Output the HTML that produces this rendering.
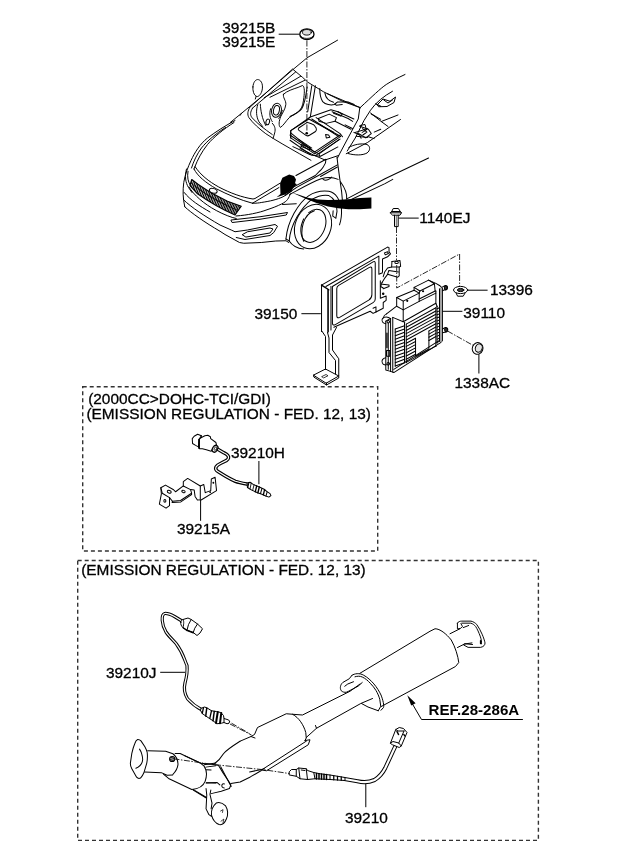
<!DOCTYPE html>
<html><head><meta charset="utf-8"><title>Parts diagram</title>
<style>
html,body{margin:0;padding:0;background:#fff;}
body{width:620px;height:848px;overflow:hidden;}
svg{display:block;filter:grayscale(1);}
text{font-family:"Liberation Sans",sans-serif;font-size:15.4px;fill:#000;stroke:#000;stroke-width:0.3px;}
.l{fill:none;stroke:#000;stroke-width:1;stroke-linecap:round;stroke-linejoin:round;}
.t{fill:none;stroke:#333;stroke-width:0.6;stroke-linecap:round;stroke-linejoin:round;}
.w{fill:#fff;stroke:#000;stroke-width:1;stroke-linecap:round;stroke-linejoin:round;}
.ld{fill:none;stroke:#000;stroke-width:1;}
.dd{fill:none;stroke:#111;stroke-width:0.9;stroke-dasharray:6 1.5 1.5 1.5;}
.bx{fill:none;stroke:#333;stroke-width:1.4;stroke-dasharray:4 3;}
.k{fill:#000;stroke:none;}
</style></head><body>
<svg width="620" height="848" viewBox="0 0 620 848">
<rect x="0" y="0" width="620" height="848" fill="#fff"/>
<!-- 00_labels.svg -->
<g id="boxes">
<rect class="bx" x="82.7" y="386.8" width="295" height="164.2"/>
<rect class="bx" x="77.7" y="560.5" width="460.7" height="279.9"/>
</g>
<g id="labels">
<text x="222.3" y="33.4">39215B</text>
<text x="222.3" y="47.4">39215E</text>
<text x="419.3" y="222.8">1140EJ</text>
<text x="490" y="294.5">13396</text>
<text x="463.3" y="317.5">39110</text>
<text x="254.5" y="319.3">39150</text>
<text x="454.5" y="388.3">1338AC</text>
<text x="88.2" y="403.8">(2000CC&gt;DOHC-TCI/GDI)</text>
<text x="86.4" y="418.8">(EMISSION REGULATION - FED. 12, 13)</text>
<text x="231" y="458">39210H</text>
<text x="177" y="534">39215A</text>
<text x="81.2" y="574.5">(EMISSION REGULATION - FED. 12, 13)</text>
<text x="106" y="678.2">39210J</text>
<text x="428.6" y="715.4" style="font-weight:bold;font-size:15.1px;stroke:none">REF.28-286A</text>
<text x="345" y="823.2">39210</text>
</g>
<g id="leaders">
<path class="ld" d="M278.7 34.2H299.6"/>
<path class="ld" d="M398.4 218.1H418.7"/>
<path class="ld" d="M467.7 290.2H487.6"/>
<path class="ld" d="M442.4 311.3H462.4"/>
<path class="ld" d="M478.9 353.5V373.5"/>
<path class="ld" d="M301.4 313.7H320.8"/>
<path class="ld" d="M160.2 672.3H185"/>
<path class="ld" d="M365.8 782.7V807.2"/>
<path class="ld" d="M258.9 461V484.2"/>
<path class="ld" d="M200.6 501V520.8"/>
<path class="ld" d="M522.9 719.5H421.5L409.5 699"/>
<path class="k" d="M407.3 695.3L415.6 703.2L411.2 705.6Z"/>
</g>

<!-- 10_car1.svg -->
<g transform="translate(160,120) scale(0.25)" style="stroke-width:4" class="l">
<!-- outer silhouette left -->
<path d="M300 2C262 22 222 48 190 72C160 96 140 128 124 162C112 188 100 218 95 250C91 280 91 312 99 347"/>
<path d="M262 30C222 56 188 84 166 112C148 136 134 166 126 192"/>
<path d="M296 10C255 36 215 68 190 98C166 128 150 160 140 186L136 196"/>
<!-- hood front edge -->
<path d="M136 196C150 225 185 252 225 275C270 298 320 320 370 333"/>
<path d="M140 186C160 218 195 246 235 268C280 292 330 310 372 316L380 314L480 253"/>
<path d="M370 333L476 270"/>
<path d="M370 333C385 333 395 332 405 330C425 327 440 324 452 321C468 317 482 312 492 307C502 302 510 297 515 292L527 284"/>
<path d="M304 384C330 382 350 379 370 375C395 370 412 365 428 359C450 352 470 344 486 336C498 330 506 324 510 318C516 310 519 302 521 295"/>
<path d="M490 338L545 335"/>
<!-- grille -->
<clipPath id="gc"><path d="M127 238C160 266 210 296 270 325L325 345L300 380C250 358 200 330 150 295L120 262Z"/></clipPath>
<g clip-path="url(#gc)"><rect x="100" y="220" width="240" height="180" style="fill:#fff;stroke:none"/>
<path d="M126.0 224.0L106.0 284.0M132.0 228.3L112.0 288.3M138.1 232.6L118.1 292.6M144.1 236.9L124.1 296.9M150.1 241.2L130.1 301.2M156.1 245.4L136.1 305.4M162.2 249.6L142.2 309.6M168.2 253.7L148.2 313.7M174.2 257.7L154.2 317.7M180.3 261.7L160.3 321.7M186.3 265.6L166.3 325.6M192.3 269.5L172.3 329.5M198.4 273.2L178.4 333.2M204.4 276.9L184.4 336.9M210.4 280.4L190.4 340.4M216.4 283.9L196.4 343.9M222.5 287.2L202.5 347.2M228.5 290.5L208.5 350.5M234.5 293.7L214.5 353.7M240.6 296.7L220.6 356.7M246.6 299.7L226.6 359.7M252.6 302.5L232.6 362.5M258.6 305.3L238.6 365.3M264.7 307.9L244.7 367.9M270.7 310.5L250.7 370.5M276.7 313.0L256.7 373.0M282.8 315.4L262.8 375.4M288.8 317.8L268.8 377.8M294.8 320.1L274.8 380.1M300.9 322.3L280.9 382.3M306.9 324.5L286.9 384.5M312.9 326.7L292.9 386.7M318.9 328.8L298.9 388.8M325.0 330.9L305.0 390.9M331.0 333.0L311.0 393.0" style="stroke-width:4.4"/>
<path d="M122 250C155 280 205 312 262 340L312 362" style="stroke-width:3"/>
<path d="M140 262C170 288 215 315 270 342" style="stroke-width:3;stroke-dasharray:6 5"/>
</g>
<path d="M127 238C160 266 210 296 270 325L325 345L300 380C250 358 200 330 150 295L120 262Z" style="stroke-width:4.5"/>
<ellipse cx="213" cy="283" rx="16" ry="9" transform="rotate(18 213 283)" style="fill:#fff"/>
<path d="M116 268C135 300 175 335 225 362C255 378 285 390 305 394"/>
<!-- headlight -->
<path d="M106 196C98 225 102 250 114 270L128 290"/>
<path d="M112 205C108 228 112 248 122 262"/>
<!-- bumper -->
<path d="M93 318C125 350 180 385 240 420L285 440L300 447L350 440L460 418L470 425L455 450L440 462L340 478L305 470"/>
<path d="M99 347C125 372 180 410 240 445L260 458L318 490L335 493L405 490L463 484L504 483L515 490"/>
<path d="M285 400L400 387L510 370L505 380L400 397L290 410Z"/>
<path d="M330 458L350 447L440 432L452 436L440 452L345 468Z"/>
<path d="M97 290C120 320 160 345 200 368"/>
</g>

<!-- 11_car2.svg -->
<g transform="translate(240,70) scale(0.16129)" style="stroke-width:6" class="l">
<!-- roof/a-pillar outer -->
<path d="M-60 325L10 268L150 152L325 0L416 -76L605 -185"/>
<path d="M10 268L0 282"/>
<!-- windshield outline -->
<path d="M60 232L326 -6L386 44L421 76L516 134L636 194L746 234"/>
<path d="M78 236L345 12"/>
<path d="M60 232C48 255 44 275 55 295C80 330 120 365 160 395C220 435 300 480 370 520L440 560"/>
<path d="M78 236C62 262 62 280 75 296C105 330 150 365 200 400"/>
<path d="M150 172L376 39"/>
<path d="M186 169L401 64"/>
<!-- mirror -->
<path d="M80 105C82 75 98 55 115 60C135 66 145 95 136 130C128 155 112 170 100 163C86 155 78 130 80 105Z"/>
<path d="M100 163L95 180"/>
<!-- interior blob -->
<path d="M270 150C290 130 330 118 360 108L388 96C402 105 400 140 396 170C392 200 390 225 372 248C352 268 325 280 305 296C285 315 270 345 250 356C238 345 242 315 252 290C262 268 280 245 284 215C288 190 262 170 270 150Z"/>

<!-- steering wheel -->
<ellipse cx="226" cy="250" rx="30" ry="44" transform="rotate(12 226 250)"/>
<ellipse cx="226" cy="250" rx="18" ry="30" transform="rotate(12 226 250)"/>
<ellipse cx="172" cy="322" rx="11" ry="18" transform="rotate(15 172 322)"/>
<path d="M110 215C98 250 100 290 118 322L140 350"/>
<path d="M126 212C128 250 136 300 160 345"/>
<path d="M190 240C180 270 185 300 200 320"/>
<path d="M200 330C215 345 222 365 215 390L205 425"/>
<path d="M262 250C255 275 250 290 240 300"/>
</g>
<g class="l">
<path d="M300 148.5L313.5 155L325 160L338.5 155.5"/>
</g>
<!-- tile U: origin (290,90) scale 6.889 : console, right interior -->
<g transform="translate(290,90) scale(0.14516)" style="stroke-width:6.9" class="l">
<path d="M118 -20C110 40 100 100 80 130C60 155 30 170 0 182"/>
<path d="M175 -30L140 185"/>
<path d="M150 -30L122 150"/>
<path d="M205 -10C205 30 212 60 225 80C245 100 280 108 305 100L328 82H400L442 100"/>
<path d="M240 20C245 50 260 75 300 85"/>
<path d="M310 95L318 105L360 100"/>
<!-- platform -->
<path d="M8 278L140 186L282 136L330 150L440 200"/>
<path d="M5 280L130 200L350 320L170 440L5 330Z"/>
<path d="M5 280V330"/>
<path d="M5 296L168 428L348 308"/>
<path d="M150 200L330 318"/>
<path d="M175 452L345 338"/>
<path d="M60 340L150 400"/>
<path d="M60 262Q52 272 64 280L110 312Q122 320 134 312L176 286Q186 278 180 262L172 250Q166 238 152 234L128 226Q118 222 108 230Z"/>
<path d="M195 196L270 166L320 190L310 215L250 230L200 215Z"/>
<path d="M245 306L266 310L275 325L250 330Z"/>
<path d="M180 190L345 300L362 322"/>
<path d="M0 310L160 420L200 440L340 340"/>
<path d="M0 346L150 450L210 456L330 392"/>
<path d="M20 390L140 446"/>
<path d="M80 375L140 400L135 412L75 388Z"/>
<path d="M200 440L205 456"/>
<path d="M290 150L400 196L432 216"/>
<path d="M330 150L360 165L350 180L300 160"/>
<path d="M310 215L420 270"/>
<path d="M380 240L430 265"/>
<path d="M210 240L300 290"/>
<!-- door inner, right of A-pillar -->
<path d="M480 250L540 270L560 300L522 330L472 300"/>
<path d="M500 266L530 290L502 310"/>
<path d="M440 292L480 310L490 332"/>
<path d="M560 165L625 202"/>
<path d="M580 290L625 270"/>
<path d="M590 95L625 112"/>
<path d="M540 322L580 335"/>
</g>
<path class="dd" d="M306.9 40.5V132"/>
<g class="l">
<ellipse cx="306.9" cy="34.2" rx="7.1" ry="5.4" style="stroke-width:1.3"/>
<path d="M300.2 35.5C301.5 39.5 312.3 39.5 313.6 35.5" style="stroke-width:0.8"/>
<ellipse cx="306.9" cy="32.3" rx="4.4" ry="2.8" style="fill:#ddd;stroke-width:0.9"/>
</g>
<circle cx="306.7" cy="133.2" r="1.3" class="k"/>

<!-- 12_car3.svg -->
<!-- tile 4: origin (330,60) scale 4 -->
<g transform="translate(330,60) scale(0.25)" style="stroke-width:4" class="l">
<path d="M300 58C270 72 245 85 225 98C200 115 170 145 119 192L113 236L72 312L38 376L30 392"/>
<path d="M250 125C215 145 185 168 162 201L136 242L101 312L69 364"/>
<path d="M-10 135L60 165L120 190"/>
<!-- beltline / window lower edge -->
<path d="M65 375L150 330L282 238"/>
<!-- mirror -->
<path d="M75 350C95 338 125 332 148 338C162 345 162 362 148 372C130 382 100 382 72 374"/>
<!-- side window interior -->
<path d="M190 178L212 156L240 165L262 148L256 170L228 186L196 187Z"/>
<path d="M215 160L232 172L250 160"/>
<path d="M162 212L205 246L272 220"/>
<path d="M205 246L232 266"/>
<path d="M120 262L140 258L146 280L128 290"/>
<path d="M100 290L150 275"/>
<path d="M105 305L150 310"/>
<!-- body side -->

<!-- door front edge -->

</g>
<!-- tile 5: origin (265,160) scale 5.167 -->
<g transform="translate(265,160) scale(0.19355)" style="stroke-width:5.2" class="l">
<!-- hood right edge & fender lines -->
<path d="M160 80L315 -4C316 10 310 25 301 36C295 45 290 52 282 58L260 80L163 131L103 164"/>
<path d="M103 182L168 139L276 80L374 25"/>
<path d="M287 85L374 36"/>
<path d="M128 178C180 150 240 115 290 97C320 88 350 88 378 100"/>
<path d="M300 100C315 110 335 100 345 88"/>
<!-- door front edge -->
<path d="M372 -15C378 40 388 110 396 165L400 210"/>
<path d="M390 112C410 140 425 170 422 200"/>
<!-- body side lines -->
<path d="M420 202L620 97L845 -10"/>
<path d="M440 207L620 122L660 100"/>
<!-- wheel arch -->
<path d="M108 408C112 368 125 320 150 275C170 240 195 205 225 185C260 163 300 158 330 162C365 170 390 205 395 250C397 285 392 315 385 335"/>
<path d="M125 418C128 380 142 335 165 295C185 262 210 228 240 205C270 188 300 178 330 184C358 198 372 230 372 265L366 300"/>
<path d="M366 300L350 290L352 262"/>
<path d="M125 418C138 438 165 456 200 460"/>
<path d="M108 408L125 418"/>
<!-- tire -->
<ellipse cx="248" cy="344" rx="92" ry="118" transform="rotate(22 248 344)"/>
<ellipse cx="250" cy="340" rx="60" ry="89" transform="rotate(22 250 340)" style="stroke-dasharray:250 40 190 30"/>
<path d="M200 420C190 400 188 360 198 325C208 295 230 270 255 262"/>
</g>
<!-- black arrow -->
<path class="k" d="M276.6 197.2L280.5 193.9L280.1 183.2L282.4 177.8L289.2 174.5L294 175.9L296 179.4L295 183.2L296.9 184.2L294 187.1L291.1 191L284.4 194.8Z"/>
<path class="k" d="M291.8 192.6L299 194.8L307.7 197.7L317.9 199.5L328.1 200.1L339.7 199.8L351.3 199.1L360 198.1L371.4 197.6V208.6L360 209.3H348.4L338.2 208.3L328.1 206.4L316.5 203L306.3 199.1L299 195.8Z"/>

<!-- 20_bracket.svg -->
<!-- bracket 39150: tile F origin (315,243) scale 6.889 -->
<g transform="translate(315,243) scale(0.14516)" style="stroke-width:6.9" class="l">
<!-- top outer edge + tab -->
<path d="M45 290L500 28L510 32V60L520 75L500 95L465 110V200"/>
<path d="M478 68L500 60L506 72L484 82Z"/>
<!-- inner top edge & right strip -->
<path d="M75 300L440 90V215L465 205"/>
<!-- left flange -->
<path d="M45 290V610"/>
<path d="M45 290L95 322" style="stroke-width:10"/>
<path d="M90 322V612" style="stroke-width:11"/>
<path d="M110 300V600"/>
<!-- window outer -->
<path d="M120 300L400 130Q415 122 415 140V385Q415 402 400 411L140 562Q122 572 120 552Z"/>
<!-- window inner -->
<path d="M150 315Q150 300 163 292L375 168Q392 160 392 180V355Q392 380 370 394L170 512Q152 522 150 502Z"/>
<!-- lower right steps -->
<path d="M450 260V380L490 365V395L470 410V450L420 475V440L400 450"/>
<path d="M130 580L380 470L400 485L420 475"/>
<path d="M465 285L510 290V300L470 315"/>
<circle cx="470" cy="350" r="5" style="fill:#000"/>
<!-- small bracket -->
<path d="M530 128L585 120L590 160L580 166V226L570 236L500 216L482 240L462 272"/>
<path d="M530 128L528 165L500 172L480 200L470 232"/>
<path d="M528 165L580 166"/>
<path d="M500 216L508 190L575 200"/>
<ellipse cx="562" cy="134" rx="12" ry="8"/>
<path d="M462 272L452 300L470 310"/>
</g>
<!-- leg/foot: tile E origin (305,245) scale 4 -->
<g transform="translate(305,245) scale(0.25)" style="stroke-width:4" class="l">
<path d="M68 345L82 366V498"/>
<path d="M126 330L110 360V420L135 455V522"/>
<path d="M90 350L96 372V430L122 462V515"/>
<path d="M35 520L82 496L135 524L86 552Z"/>
<path d="M35 520V528L86 560V552"/>
<path d="M86 560L135 532V524"/>
<path d="M68 526L84 518L92 523L76 531Z" style="stroke-width:3"/>
</g>

<!-- 21_ecu.svg -->
<!-- ECU 39110: tile G1 origin (372,275) scale 6.889 -->
<g transform="translate(372,275) scale(0.14516)" style="stroke-width:6.9" class="l">
<path d="M390 35L440 58L465 72L485 90V452L470 468L150 672L128 664"/>
<path d="M475 92V458" style="stroke:#999;stroke-width:12"/>
<path d="M465 95V456"/>
<path d="M448 215V470"/>
<path d="M150 650L462 452"/>
<path d="M128 300V664"/>
<path d="M143 292V668"/>
<path d="M95 318V655L128 664" />
<path d="M95 318L128 300"/>
<path d="M103 400V500" style="stroke-width:9"/>
<path d="M112 330V650"/>
<path d="M100 520H122V560H100Z"/>
<path d="M128 300C110 285 85 285 72 300C62 318 75 335 95 335"/>
<path d="M95 570C75 572 62 590 72 608C80 620 95 622 100 618"/>
<circle cx="112" cy="322" r="9"/>
<circle cx="112" cy="612" r="9"/>
<path d="M100 268L170 215"/>
<path d="M100 268C90 272 80 285 78 295"/>
<path d="M143 292L215 322L440 195L448 215"/>
<path d="M215 322V240"/>
<path d="M440 195V110"/>
<path d="M170 155L290 105L325 125L215 180Z"/>
<path d="M170 155V215L215 240V180"/>
<path d="M215 240L325 182V125"/>
<circle cx="243" cy="178" r="4" style="fill:#000"/>
<path d="M290 105V85L390 35L430 60L330 110L325 125"/>
<path d="M290 85L330 110"/>
<path d="M430 60L435 110L325 165"/>
<path d="M435 110L440 110"/>
<circle cx="352" cy="112" r="4" style="fill:#000"/>
<path d="M325 182L440 125" />
<path d="M160 372L224 349"/>
<path d="M160 395L224 372"/>
<path d="M160 418L224 395"/>
<path d="M160 442L224 419"/>
<path d="M160 465L224 442"/>
<path d="M160 488L224 465"/>
<path d="M160 511L224 488"/>
<path d="M160 534L224 511"/>
<path d="M160 558L224 535"/>
<path d="M160 581L224 558"/>
<path d="M160 604L224 581"/>
<path d="M160 627L224 604"/>
<path d="M160 372V628"/>
<path d="M224 326V604"/>
<path d="M236 338L440 226"/>
<path d="M236 360L440 248"/>
<path d="M236 382L440 270"/>
<path d="M236 404L440 292"/>
<path d="M236 426L440 314"/>
<path d="M236 448L440 336"/>
<path d="M236 470L300 436"/>
<path d="M392 385L440 358"/>
<path d="M236 492L300 458"/>
<path d="M392 407L440 380"/>
<path d="M236 514L300 480"/>
<path d="M392 429L440 402"/>
<path d="M236 536L300 502"/>
<path d="M392 451L440 424"/>
<path d="M236 558L300 524"/>
<path d="M236 580L300 546"/>
<path d="M236 602L440 490"/>
<path d="M236 338V604"/>
<path d="M440 226V492"/>
<path d="M300 436V560L392 510V388"/>
<path d="M450 232L464 226"/>
<path d="M450 253L464 247"/>
<path d="M450 274L464 268"/>
<path d="M450 295L464 289"/>
<path d="M450 316L464 310"/>
<path d="M450 337L464 331"/>
<path d="M450 358L464 352"/>
<path d="M450 379L464 373"/>
<path d="M450 400L464 394"/>
<path d="M450 421L464 415"/>
<path d="M450 442L464 436"/>
<path d="M450 463L464 457"/>
<path d="M486 82L505 72C515 70 522 78 520 90C518 100 510 104 500 102L486 108"/>
<ellipse cx="508" cy="88" rx="10" ry="13" style="fill:#333"/>
<path d="M486 372L505 362C515 360 524 368 522 380C520 392 512 396 502 394L486 398"/>
<ellipse cx="510" cy="378" rx="10" ry="13" style="fill:#333"/>
</g>

<!-- 22_hardware.svg -->
<!-- bolt 1140EJ -->
<g class="l">
<path d="M393.6 208.5H398.4L400.3 211.5L401.4 212.8L400 215.2H392.6L390.2 212.8L391.6 211.5Z" style="fill:#fff"/>
<path d="M391.6 211.5H400.3M390.2 212.8H401.4"/>
<path d="M394.5 215.2V226.6H398.2V215.2"/>
<path d="M396.3 216V226" style="stroke-width:0.6"/>
</g>
<path class="dd" d="M396.5 227V260"/>
<path class="dd" d="M396.7 265V288L459.6 254V286"/>
<!-- flange nut 13396 -->
<g class="l">
<path d="M455.8 292.5L457.6 296.2H463.2L465.4 292.5" />
<ellipse cx="460.6" cy="290" rx="7.1" ry="3.6" style="fill:#fff"/>
<ellipse cx="460.6" cy="290" rx="3.2" ry="1.6" style="fill:#444"/>
</g>
<!-- cap nut 1338AC -->
<g class="l">
<ellipse cx="477.6" cy="348.4" rx="5.3" ry="5.9" style="fill:#fff" transform="rotate(20 477.6 348.4)"/>
<ellipse cx="478.8" cy="348" rx="3.4" ry="4.3" style="fill:#e4e4e4" transform="rotate(20 478.8 348)"/>
</g>
<path class="dd" d="M447.5 331L473.5 345.6"/>

<!-- 30_sensorH.svg -->
<!-- sensor 39210H: tile H origin (185,428) scale 6.889 -->
<g transform="translate(185,428) scale(0.14516)" class="l" style="stroke-width:6.9">
<!-- cable: double line via thick black + white core -->
<path d="M220 143L267 170C280 176 290 182 296 190C304 200 300 214 287 223L247 243C232 250 220 258 214 268C208 280 214 292 227 300L280 333C300 345 325 358 347 367C370 375 395 380 425 386" style="stroke-width:24"/>
<path d="M220 143L267 170C280 176 290 182 296 190C304 200 300 214 287 223L247 243C232 250 220 258 214 268C208 280 214 292 227 300L280 333C300 345 325 358 347 367C370 375 395 380 425 386" style="stroke:#fff;stroke-width:8"/>
<!-- connector -->
<path d="M93 83L110 67L137 53L157 50L175 60L177 73L213 100L217 117L190 143L180 160L147 150L120 143H100L93 130Z" style="fill:#fff"/>
<path d="M50 73L63 57L87 43L113 53L97 77L93 130L73 120L52 107Z" style="fill:#fff"/>
<path d="M97 80V138" style="stroke-width:12"/>
<path d="M113 53L110 67"/>
<ellipse cx="207" cy="143" rx="17" ry="25" transform="rotate(30 207 143)" style="fill:#fff;stroke-width:9"/>
<ellipse cx="210" cy="142" rx="8" ry="13" transform="rotate(30 210 142)" style="stroke-width:5"/>
<!-- sensor tip -->
<path d="M428 378L448 374L472 390L512 406L545 422L565 438L586 452L592 466L578 476L556 468L530 456L500 446L460 428L430 410Z" style="fill:#fff"/>
<path d="M440 376L432 410" style="stroke-width:8"/>
<path d="M456 380L448 420" style="stroke-width:6"/>
<path d="M476 390L466 430" style="stroke-width:6"/>
<path d="M494 398L484 440" style="stroke-width:9"/>
<path d="M512 406L502 447" style="stroke-width:10"/>
<path d="M530 416L520 452" style="stroke-width:7"/>
<path d="M548 425L540 460" style="stroke-width:9"/>
<path d="M566 440L558 468"/>
</g>
<!-- bracket 39215A: tile I origin (155,470) scale 6.889 -->
<g transform="translate(155,470) scale(0.14516)" class="l" style="stroke-width:6.9">
<path d="M40 122L72 104L128 136L142 150L195 110L245 135L252 160L176 210L120 215L100 190L50 160Z"/>
<path d="M40 122L44 165L30 235L76 263L100 246V190"/>
<path d="M120 215L118 224L178 220L252 170V160"/>
<path d="M195 110V80L225 58L312 110V205L292 206L276 182L270 138L245 135"/>
<path d="M312 110L336 100L346 156L384 142L388 62L414 50L424 142L312 210"/>
<ellipse cx="98" cy="150" rx="14" ry="9" transform="rotate(20 98 150)"/>
<ellipse cx="196" cy="148" rx="12" ry="8" transform="rotate(20 196 148)"/>
<ellipse cx="68" cy="213" rx="7" ry="9"/>
<circle cx="402" cy="88" r="3" style="fill:#000"/>
<circle cx="380" cy="152" r="3" style="fill:#000"/>
</g>

<!-- 40_exhaust.svg -->
<!-- K1: flange & front pipes. origin (125,732) scale 6.889 -->
<g transform="translate(125,732) scale(0.14516)" class="l" style="stroke-width:6.9">
<path d="M87 51Q100 50 110 61L137 101Q150 125 153 141Q157 180 150 214L130 281Q120 305 107 317Q92 325 80 311L47 254Q36 235 37 214L47 147Q55 110 67 81Q75 55 87 51Z"/>
<path d="M100 118C112 135 120 160 122 190C120 215 110 235 75 250"/>
<path d="M156 130L280 132L330 150C350 165 365 195 365 225C362 250 350 272 330 292"/>
<path d="M135 275L250 280L290 298L328 296"/>
<circle cx="325" cy="186" r="18" style="fill:#bbb"/>
<path d="M314 178L332 172M312 190L338 182M318 200L336 194" style="stroke-width:5"/>
<path d="M345 148H380L520 215L545 235C562 260 566 300 552 340C540 370 505 392 460 396L300 320L265 290"/>
<path d="M545 226L625 214"/>
<path d="M556 242L625 232"/>
<path d="M560 350L625 352"/>
<path d="M470 400L560 455"/>
</g>
<!-- K2: bracket & hanger. origin (185,745) scale 6.889 -->
<g transform="translate(185,745) scale(0.14516)" class="l" style="stroke-width:6.9">
<path d="M0 75L110 125L195 135"/>
<path d="M195 135C225 115 250 85 265 60C285 35 330 5 379 -26"/>
<path d="M195 135L230 140L262 192L302 252L316 276L306 300L250 318L180 335"/>
<path d="M246 150L318 286"/>
<path d="M316 266L380 255L450 220L526 176"/>
<path d="M445 186L520 170L548 164"/>
<path d="M145 262L220 258L240 275"/>
<path d="M272 268C255 265 248 280 258 292L270 296"/>
<path d="M148 170L180 172"/>
<path d="M145 300L150 345L145 440L165 480L182 492"/>
<path d="M178 310L172 340L186 400L180 440"/>
<path d="M55 306L145 360"/>
<path d="M215 400C235 392 262 402 280 420C295 445 298 480 285 510C275 535 255 552 235 548C212 540 190 512 182 482C180 455 192 420 215 400Z"/>
<path d="M245 455L262 445L258 465" style="stroke-width:5"/>
<path d="M248 525L268 510L262 535" style="stroke-width:5"/>
</g>
<path class="dd" d="M173.5 758.8L214 764.6L263.5 769.7L304.5 775.8"/>
<!-- L1: cat + pipe. origin (230,640) scale 4 -->
<g transform="translate(230,640) scale(0.25)" class="l" style="stroke-width:4">
<path d="M40 405L84 386L98 378L110 350L225 295L250 297C275 310 295 340 303 370L305 392L300 402"/>
<path d="M84 386L100 392"/>
<path d="M300 402L320 399L313 419L146 523L126 520L306 404"/>
<path d="M250 297L290 300L440 225L480 205L520 176"/>
<path d="M305 390L346 353L523 254L570 234"/>
<path d="M346 353L342 342"/>
<!-- hanger loop -->
<path d="M488 141L477 155L451 170C442 178 438 192 445 203C450 208 458 210 465 209L474 205L512 185L529 170"/>
<path d="M494 167L471 176L459 185"/>
</g>
<path class="dd" d="M230 724L251.5 735"/>
<!-- L2: muffler. origin (340,600) scale 4 -->
<g transform="translate(340,600) scale(0.25)" class="l" style="stroke-width:4">
<path d="M48 301C58 294 78 291 95 301C125 318 150 350 164 380C172 400 177 422 174 430L164 441"/>
<path d="M60 307C70 304 80 304 89 308C102 314 112 323 121 333C130 342 138 352 144 362C151 374 156 386 159 397L163 425L153 443"/>
<path d="M86 414L112 428L153 443"/>
<path d="M80 293L360 125L380 115C400 115 425 135 445 160C462 190 472 225 475 250L462 266L165 426"/>
<path d="M440 135L480 115"/>
<path d="M470 190L500 175L530 178"/>
</g>
<!-- L3: rear flange. origin (440,610) scale 10.33 -->
<g transform="translate(440,610) scale(0.0968)" class="l" style="stroke-width:10">
<path d="M180 135C190 120 205 115 225 115H320C345 120 365 135 380 150C400 180 420 215 435 250C450 285 462 320 465 340C465 360 455 378 420 386H290L245 362"/>
<path d="M225 136H318C340 142 355 155 368 170C385 195 402 235 415 270C425 300 432 325 428 350"/>
<path d="M180 135V195L212 190L232 170L216 140"/>
<path d="M240 182L296 160"/>
<path d="M250 352L330 340"/>
<path d="M420 318V345" style="stroke-width:16"/>
</g>

<!-- 41_sensors.svg -->
<!-- J1: sensor 39210J. origin (140,595) scale 4 -->
<g transform="translate(140,595) scale(0.25)" class="l" style="stroke-width:4">
<path d="M166 103L138 86C125 79 112 73 99 74C91 76 88 88 89 102C90 118 96 134 104 148C116 166 134 182 145 195C160 215 172 240 180 262C185 275 187 280 188 282C190 305 186 330 180 352C175 372 176 392 190 415C205 432 225 448 248 460" style="stroke-width:13"/>
<path d="M166 103L138 86C125 79 112 73 99 74C91 76 88 88 89 102C90 118 96 134 104 148C116 166 134 182 145 195C160 215 172 240 180 262C185 275 187 280 188 282C190 305 186 330 180 352C175 372 176 392 190 415C205 432 225 448 248 460" style="stroke:#fff;stroke-width:5"/>
<!-- connector -->
<path d="M163 110C164 102 168 99 172 98L192 92L205 98L230 116L250 135L240 152L228 162L213 150L188 141L172 131C165 124 162 117 163 110Z" style="fill:#fff"/>
<path d="M205 98L194 118L188 141"/>
<path d="M230 116L219 133L213 150"/>
<path d="M172 98C176 104 176 112 172 131" />
<path d="M174 132L188 142M190 142L213 151" style="stroke-width:6"/>
<!-- sensor tip -->
<path d="M245 453L259 448L272 454L286 463L305 466L323 470L334 482L336 494L352 499L359 504L356 513L348 515L336 510L325 513L307 515L292 503L278 494L263 484L249 474L243 463Z" style="fill:#fff"/>
<path d="M254 450L249 474" style="stroke-width:5"/>
<path d="M267 452L263 484" style="stroke-width:6"/>
<path d="M286 463L279 494" style="stroke-width:5"/>
<path d="M297 466L292 503" style="stroke-width:6"/>
<path d="M311 468L304 512" style="stroke-width:8"/>
<path d="M325 472L320 513" style="stroke-width:8"/>
<path d="M336 494L336 510"/>
</g>
<path class="dd" d="M231.5 723.2L250 733.8"/>
<!-- M: sensor 39210. origin (270,700) scale 4 -->
<g transform="translate(270,700) scale(0.25)" class="l" style="stroke-width:4">
<path d="M298 316L350 325C370 330 395 330 418 320C438 308 452 290 461 272L500 188" style="stroke-width:16.5"/>
<path d="M298 316L350 325C370 330 395 330 418 320C438 308 452 290 461 272L500 188" style="stroke:#fff;stroke-width:8.5"/>
<!-- connector -->
<path d="M482 172L503 118L517 110L534 114L548 130L525 184L517 190L492 180Z" style="fill:#fff"/>
<path d="M482 172L492 166L515 172L525 184"/>
<path d="M515 172L536 124"/>
<path d="M503 118L512 124L536 124"/>
<path d="M508 126L514 138" style="stroke-width:6"/>
<path d="M535 138L540 144" style="stroke-width:5"/>
<!-- tip -->
<path d="M78 286L86 278H105L115 272L145 275L150 282L175 290L200 295L240 300L300 310V322L240 318L180 315L150 318L120 315L105 305L78 300Z" style="fill:#fff"/>
<path d="M105 278V305M115 272L120 315M145 275L150 318M175 290L180 315M240 300V318"/>
<path d="M186 294V316M196 295V316M206 296V317M216 297V317M226 298V318" style="stroke-width:6"/>
<path d="M255 303V319M270 305V320M285 307V321" style="stroke-width:5"/>
<path d="M125 280L140 282" />
</g>

</svg>
</body></html>
